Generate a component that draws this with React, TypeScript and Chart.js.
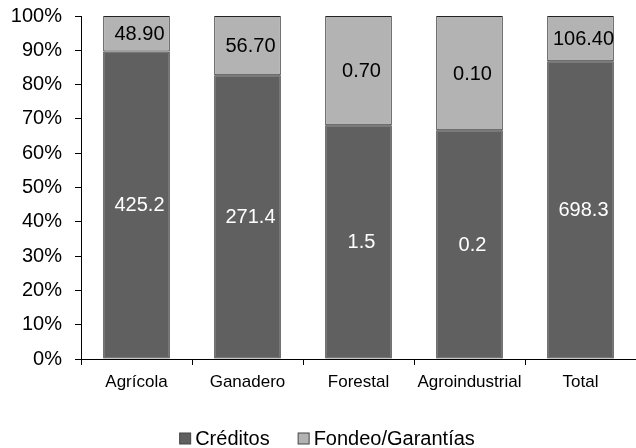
import { useEffect, useRef } from 'react';
import { Chart, registerables } from 'chart.js';

Chart.register(...registerables);

const categories = ['Agrícola', 'Ganadero', 'Forestal', 'Agroindustrial', 'Total'];
const creditos = [425.2, 271.4, 1.5, 0.2, 698.3];
const fondeo = [48.9, 56.7, 0.7, 0.1, 106.4];
const seriesNames = ['Créditos', 'Fondeo/Garantías'];
const seriesColors = ['#606060', '#b3b3b3'];
const labelColors = ['#ffffff', '#000000'];
const labelDecimals = [1, 2];

const FONT = '"Liberation Sans", Arial, sans-serif';

const rawValues = [creditos, fondeo];
const creditosPct = creditos.map((v, i) => (v / (v + fondeo[i])) * 100);
const fondeoPct = fondeo.map((v, i) => (v / (creditos[i] + v)) * 100);

const segLabels = {
  id: 'segLabels',
  afterDatasetsDraw(chart: any) {
    const ctx = chart.ctx;
    ctx.save();
    ctx.font = `20px ${FONT}`;
    ctx.textAlign = 'center';
    ctx.textBaseline = 'middle';
    chart.data.datasets.forEach((_ds: any, di: number) => {
      const meta = chart.getDatasetMeta(di);
      meta.data.forEach((el: any, i: number) => {
        const { x, y, base } = el.getProps(['x', 'y', 'base'], true);
        ctx.fillStyle = labelColors[di];
        ctx.fillText(rawValues[di][i].toFixed(labelDecimals[di]), x + 3, (y + base) / 2 + 1);
      });
    });
    ctx.restore();
  },
};

const customLegend = {
  id: 'customLegend',
  afterDraw(chart: any) {
    const ctx = chart.ctx;
    ctx.save();
    ctx.font = `20px ${FONT}`;
    ctx.textBaseline = 'middle';
    ctx.textAlign = 'left';
    const box = 11;
    const gap = 5;
    const itemGap = 28;
    const widths = seriesNames.map((n) => ctx.measureText(n).width);
    const total = widths.reduce((a, w) => a + box + gap + w, 0) + itemGap * (seriesNames.length - 1);
    let x = chart.width / 2 + 9 - total / 2;
    const cy = 438;
    seriesNames.forEach((n, i) => {
      ctx.fillStyle = seriesColors[i];
      ctx.fillRect(x + 0.5, cy - box / 2 + 0.5, box, box);
      ctx.strokeStyle = '#444';
      ctx.lineWidth = 1;
      ctx.strokeRect(x + 0.5, cy - box / 2 + 0.5, box, box);
      ctx.fillStyle = '#000';
      ctx.fillText(n, x + box + gap, cy + 1);
      x += box + gap + widths[i] + itemGap;
    });
    ctx.restore();
  },
};

export default function App() {
  const ref = useRef<HTMLCanvasElement>(null);

  useEffect(() => {
    if (!ref.current) return;
    Chart.defaults.font.family = FONT;
    const chart = new Chart(ref.current, {
      type: 'bar',
      data: {
        labels: categories,
        datasets: [
          {
            label: seriesNames[0],
            data: creditosPct,
            backgroundColor: seriesColors[0],
            borderColor: '#222',
            borderWidth: 1,
            borderSkipped: false,
          },
          {
            label: seriesNames[1],
            data: fondeoPct,
            backgroundColor: seriesColors[1],
            borderColor: '#222',
            borderWidth: 1,
            borderSkipped: false,
          },
        ],
      },
      options: {
        responsive: false,
        animation: false,
        events: [],
        datasets: { bar: { categoryPercentage: 1, barPercentage: 0.6 } },
        layout: { padding: { top: 16, right: 0, bottom: 49, left: 0 } },
        plugins: {
          legend: { display: false },
          tooltip: { enabled: false },
        },
        scales: {
          x: {
            stacked: true,
            grid: {
              offset: true,
              drawOnChartArea: false,
              drawTicks: true,
              tickLength: 6,
              color: '#000',
            },
            border: { color: '#000', width: 1 },
            ticks: {
              font: { size: 17, family: FONT },
              color: '#000',
              padding: 7,
              maxRotation: 0,
              autoSkip: false,
            },
            afterFit: (s: any) => {
              s.height = 40;
              s.paddingLeft = 0;
              s.paddingRight = 0;
            },
          },
          y: {
            stacked: true,
            min: 0,
            max: 100,
            grid: {
              drawOnChartArea: false,
              drawTicks: true,
              tickLength: 6,
              color: '#000',
            },
            border: { color: '#000', width: 1 },
            ticks: {
              stepSize: 10,
              font: { size: 20, family: FONT },
              color: '#000',
              padding: 13,
              callback: (v: any) => `${v}%`,
            },
            afterFit: (s: any) => {
              s.width = 81;
              s.paddingTop = 0;
              s.paddingBottom = 0;
            },
          },
        },
      },
      plugins: [segLabels, customLegend],
    });
    return () => chart.destroy();
  }, []);

  return (
    <div style={{ position: 'fixed', left: 0, top: 0, width: 636, height: 448, background: '#fff' }}>
      <canvas ref={ref} width={636} height={448} style={{ display: 'block' }} />
    </div>
  );
}
